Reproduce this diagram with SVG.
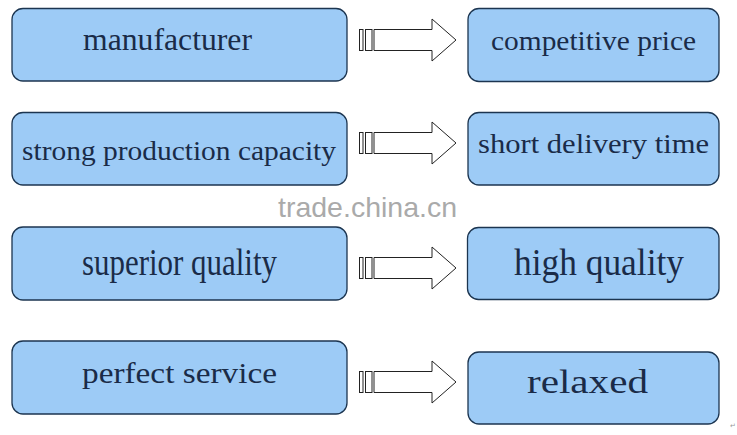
<svg xmlns="http://www.w3.org/2000/svg" width="737" height="435" viewBox="0 0 737 435">
<style>
.box{fill:#9dcbf6;stroke:#1c3550;stroke-width:1.3}
.lbl{font-family:"Liberation Serif","Times New Roman",serif;fill:#1a2b48}
.arr{fill:#fff;stroke:#222;stroke-width:1}
.wm{font-family:"Liberation Sans",Arial,sans-serif;fill:#aaaaaa;font-size:28.5px}
</style>
<defs>
<g id="arrow">
<rect class="arr" x="359.5" y="29.5" width="3.5" height="21"/>
<rect class="arr" x="365.5" y="29.5" width="6.5" height="21"/>
<polygon class="arr" points="374,29.5 432,29.5 432,19 456,40 432,61 432,50.5 374,50.5"/>
</g>
</defs>
<rect width="737" height="435" fill="#fff"/>
<text class="wm" x="278" y="217">trade.china.cn</text>
<g id="connectors">
<use href="#arrow"/>
<use href="#arrow" transform="translate(0,103)"/>
<use href="#arrow" transform="translate(0,228)"/>
<use href="#arrow" transform="translate(0,342)"/>
</g>
<g id="manufacturer">
<rect class="box" x="12" y="8.5" width="335" height="72.5" rx="11"/>
<text class="lbl" x="83" y="50" font-size="31" textLength="169" lengthAdjust="spacingAndGlyphs">manufacturer</text>
</g>
<g id="competitive-price">
<rect class="box" x="468" y="8.5" width="251" height="73" rx="11"/>
<text class="lbl" x="491" y="50" font-size="27" textLength="205" lengthAdjust="spacingAndGlyphs">competitive price</text>
</g>
<g id="strong-production-capacity">
<rect class="box" x="12" y="112.5" width="335" height="72.5" rx="11"/>
<text class="lbl" x="22" y="160" font-size="27" textLength="314" lengthAdjust="spacingAndGlyphs">strong production capacity</text>
</g>
<g id="short-delivery-time">
<rect class="box" x="468" y="112.5" width="251" height="72.5" rx="11"/>
<text class="lbl" x="478" y="153" font-size="27" textLength="231" lengthAdjust="spacingAndGlyphs">short delivery time</text>
</g>
<g id="superior-quality">
<rect class="box" x="12" y="227" width="335" height="73" rx="11"/>
<text class="lbl" x="82" y="275" font-size="37" textLength="195" lengthAdjust="spacingAndGlyphs">superior quality</text>
</g>
<g id="high-quality">
<rect class="box" x="467.5" y="227.5" width="251.5" height="72" rx="11"/>
<text class="lbl" x="514" y="275" font-size="37" textLength="170" lengthAdjust="spacingAndGlyphs">high quality</text>
</g>
<g id="perfect-service">
<rect class="box" x="12" y="341" width="335" height="73" rx="11"/>
<text class="lbl" x="82" y="383" font-size="29" textLength="195" lengthAdjust="spacingAndGlyphs">perfect service</text>
</g>
<g id="relaxed">
<rect class="box" x="468" y="352" width="251" height="72" rx="11"/>
<text class="lbl" x="527" y="393" font-size="33" textLength="121" lengthAdjust="spacingAndGlyphs">relaxed</text>
</g>
<text x="730" y="428" font-family="'DejaVu Sans',sans-serif" font-size="7" fill="#999">↵</text>
</svg>
